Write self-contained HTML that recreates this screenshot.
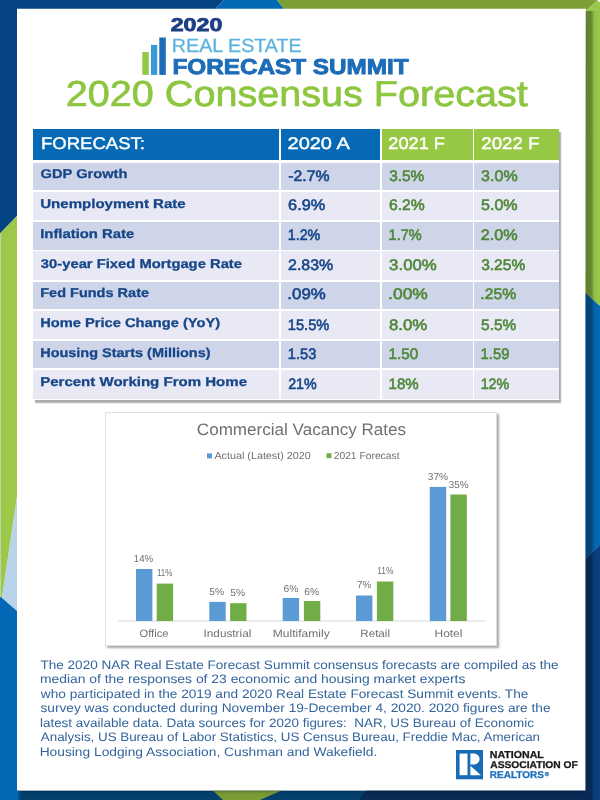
<!DOCTYPE html>
<html><head><meta charset="utf-8">
<style>
*{margin:0;padding:0;box-sizing:border-box}
html,body{width:600px;height:800px;overflow:hidden;background:#fff}
body{position:relative;font-family:"Liberation Sans",sans-serif}
.a{position:absolute}
.tbl{position:absolute;left:33px;top:129.2px;width:526px;height:271px;box-shadow:2.2px 2.8px 1.2px rgba(0,0,0,.33);background:#fff}
.row,.hd{position:absolute;left:33px;width:526px;height:28.3px}
.c{position:absolute;top:0;height:100%;display:block}
.c1{left:0;width:246.25px}
.c2{left:247.9px;width:99.6px}
.c3{left:348.9px;width:90.85px}
.c4{left:441.2px;width:84.8px}
.dk .c{background:#cfd5e9}
.lt .c{background:#e8e9f4}
.hd{top:129.2px;height:30.4px}
.hd .c1,.hd .c2{background:#0569b5}
.hd .c3,.hd .c4{background:#97c844}
svg text{font-family:"Liberation Sans",sans-serif;text-rendering:geometricPrecision}
</style></head><body>
<div id="w" style="position:absolute;left:0;top:0;width:600px;height:800px;filter:blur(0.35px)">
<svg class="a" style="left:0;top:0" width="600" height="800">
  <defs>
    <linearGradient id="rs" x1="585.5" y1="0" x2="600" y2="0" gradientUnits="userSpaceOnUse">
      <stop offset="0" stop-color="#000" stop-opacity=".36"/>
      <stop offset=".38" stop-color="#000" stop-opacity=".34"/>
      <stop offset=".62" stop-color="#000" stop-opacity=".05"/>
      <stop offset="1" stop-color="#000" stop-opacity="0"/>
    </linearGradient>
    <linearGradient id="bs" x1="0" y1="790.7" x2="0" y2="800" gradientUnits="userSpaceOnUse">
      <stop offset="0" stop-color="#000" stop-opacity=".25"/>
      <stop offset=".25" stop-color="#000" stop-opacity=".05"/>
      <stop offset="1" stop-color="#000" stop-opacity="0"/>
    </linearGradient>
    <linearGradient id="bl" x1="17" y1="0" x2="21" y2="0" gradientUnits="userSpaceOnUse">
      <stop offset="0" stop-color="#0369b6" stop-opacity="1"/>
      <stop offset="1" stop-color="#0369b6" stop-opacity="0"/>
    </linearGradient>
  </defs>
  <polygon points="0,0 224,0 215.5,8.8 0,8.8" fill="#044483"/>
  <polygon points="224,0 277,0 284,8.8 215.5,8.8" fill="#0369b6"/>
  <polygon points="277,0 597.5,0 586,11 586,8.8 284,8.8" fill="#7b9f35"/>
  <polygon points="0,0 17,0 17,216 0,233.5" fill="#044483"/>
  <polygon points="0,233.5 17,216 17,497 2,598 0,598" fill="#9dc84a"/>
  <polygon points="17,497 17,611 2,598" fill="#b9d3ea"/>
  <rect x="0" y="234" width="1" height="363" fill="#b6d7aa"/>
  <polygon points="0,597 2,598 17,611 17,800 0,800" fill="#0369b6"/>
  <rect x="17" y="790.7" width="583" height="10" fill="#04416e"/>
  <polygon points="213,790.7 281,790.7 260,800 223,800" fill="#7b9f35"/>
  <polygon points="366,790.7 600,790.7 600,800 359,800" fill="#0a2b56"/>
  <rect x="17" y="790.7" width="569" height="10" fill="url(#bs)"/>
  <rect x="17" y="790.7" width="4" height="10" fill="url(#bl)"/>
  <polygon points="586,11 597.5,0 600,0 600,306 585.5,293" fill="#99c94a"/>
  <polygon points="597.2,0 600,0 600,2.6" fill="#fff"/>
  <polygon points="585.5,293 600,306 600,544.5 585.5,559" fill="#0369b6"/>
  <polygon points="585.5,559 600,544.5 600,800 585.5,800" fill="#0b3f80"/>
  <rect x="585.5" y="11" width="14.5" height="789" fill="url(#rs)"/>
<!-- logo bars -->
  <rect x="142.3" y="51.9" width="6.5" height="23" fill="#92c944"/>
  <rect x="151" y="44.9" width="6.2" height="30" fill="#379ad8"/>
  <rect x="159.3" y="37.5" width="6.5" height="37.4" fill="#1c6cb8"/>
</svg>

<div class="tbl"></div>
<div class="hd"><i class="c c1"></i><i class="c c2"></i><i class="c c3"></i><i class="c c4"></i></div>
<div class="row dk" style="top:163.10px;height:26.90px"><i class="c c1"></i><i class="c c2"></i><i class="c c3"></i><i class="c c4"></i></div>
<div class="row lt" style="top:191.60px;height:28.40px"><i class="c c1"></i><i class="c c2"></i><i class="c c3"></i><i class="c c4"></i></div>
<div class="row dk" style="top:221.70px;height:28.40px"><i class="c c1"></i><i class="c c2"></i><i class="c c3"></i><i class="c c4"></i></div>
<div class="row lt" style="top:251.30px;height:28.90px"><i class="c c1"></i><i class="c c2"></i><i class="c c3"></i><i class="c c4"></i></div>
<div class="row dk" style="top:281.80px;height:27.30px"><i class="c c1"></i><i class="c c2"></i><i class="c c3"></i><i class="c c4"></i></div>
<div class="row lt" style="top:310.80px;height:28.40px"><i class="c c1"></i><i class="c c2"></i><i class="c c3"></i><i class="c c4"></i></div>
<div class="row dk" style="top:340.90px;height:27.60px"><i class="c c1"></i><i class="c c2"></i><i class="c c3"></i><i class="c c4"></i></div>
<div class="row lt" style="top:370.10px;height:29.40px"><i class="c c1"></i><i class="c c2"></i><i class="c c3"></i><i class="c c4"></i></div>

<div class="a" style="left:105.3px;top:411.8px;width:391.6px;height:234.4px;border:1.5px solid #e0e0e0;background:#fff;box-shadow:2px 2px 2px rgba(0,0,0,.35)"></div>

<svg class="a" style="left:0;top:0" width="600" height="800">
  <rect x="207" y="453.4" width="5" height="5" fill="#5b9bd5"/>
  <rect x="326.5" y="453.2" width="5" height="5" fill="#70ad47"/>
  <line x1="118" y1="621" x2="485" y2="621" stroke="#d9d9d9" stroke-width="1"/>
  <g fill="#5b9bd5">
    <rect x="136" y="569" width="16.4" height="52"/>
    <rect x="209.3" y="601.9" width="16.4" height="19.1"/>
    <rect x="282.7" y="598" width="16.4" height="23"/>
    <rect x="356" y="595.5" width="16.4" height="25.5"/>
    <rect x="429.8" y="486.9" width="16.4" height="134.1"/>
  </g>
  <g fill="#70ad47">
    <rect x="156.7" y="583.6" width="16.4" height="37.4"/>
    <rect x="230.1" y="603.2" width="16.4" height="17.8"/>
    <rect x="303.9" y="601" width="16.4" height="20"/>
    <rect x="376.9" y="581.5" width="16.4" height="39.5"/>
    <rect x="450.4" y="494.5" width="16.4" height="126.5"/>
  </g>
  <!-- NAR logo -->
  <g transform="translate(456,750)">
    <rect width="27" height="29.3" fill="#1a6bb5"/>
    <rect x="3.6" y="3.6" width="7.9" height="21.6" fill="#fff"/>
    <path d="M14.4 3.6H18.2A5.4 5.4 0 0 1 18.2 14.4H14.4Z" fill="#fff"/>
    <path d="M14.4 15.8L24.9 25.2H14.4Z" fill="#fff"/>
  </g>
  <text x="544.8" y="775.6" font-size="5.6" font-weight="bold" fill="#1f72bd" stroke="#1f72bd" stroke-width="0.25">®</text>
<text x="170.70" y="30.70" font-size="18.56" font-weight="bold" fill="#1d3f84" textLength="51.64" lengthAdjust="spacingAndGlyphs" stroke="#1d3f84" stroke-width="0.8">2020</text>
<text x="171.88" y="52.00" font-size="19.06" font-weight="normal" fill="#5bb4dd" textLength="129.79" lengthAdjust="spacingAndGlyphs" stroke="#5bb4dd" stroke-width="0.3">REAL ESTATE</text>
<text x="172.47" y="73.80" font-size="21.51" font-weight="bold" fill="#1c6cb8" textLength="236.22" lengthAdjust="spacingAndGlyphs" stroke="#1c6cb8" stroke-width="0.9">FORECAST SUMMIT</text>
<text x="65.87" y="105.70" font-size="36.01" font-weight="normal" fill="#8dc63f" textLength="461.89" lengthAdjust="spacingAndGlyphs" stroke="#8dc63f" stroke-width="0.7">2020 Consensus Forecast</text>
<text x="41.02" y="149.20" font-size="16.81" font-weight="normal" fill="#ffffff" textLength="103.91" lengthAdjust="spacingAndGlyphs" stroke="#fff" stroke-width="0.4">FORECAST:</text>
<text x="287.52" y="149.20" font-size="16.81" font-weight="normal" fill="#ffffff" textLength="62.22" lengthAdjust="spacingAndGlyphs" stroke="#fff" stroke-width="0.4">2020 A</text>
<text x="388.29" y="149.20" font-size="16.81" font-weight="normal" fill="#ffffff" textLength="56.66" lengthAdjust="spacingAndGlyphs" stroke="#fff" stroke-width="0.4">2021 F</text>
<text x="481.27" y="149.20" font-size="16.81" font-weight="normal" fill="#ffffff" textLength="58.20" lengthAdjust="spacingAndGlyphs" stroke="#fff" stroke-width="0.4">2022 F</text>
<text x="40.57" y="178.00" font-size="12.73" font-weight="bold" fill="#184789" textLength="86.87" lengthAdjust="spacingAndGlyphs" stroke="#184789" stroke-width="0.3">GDP Growth</text>
<text x="288.27" y="180.50" font-size="15.22" font-weight="normal" fill="#184789" textLength="41.37" lengthAdjust="spacingAndGlyphs" stroke="#184789" stroke-width="0.6">-2.7%</text>
<text x="389.16" y="180.50" font-size="15.22" font-weight="normal" fill="#50883a" textLength="35.06" lengthAdjust="spacingAndGlyphs" stroke="#50883a" stroke-width="0.6">3.5%</text>
<text x="481.14" y="180.50" font-size="15.22" font-weight="normal" fill="#50883a" textLength="36.51" lengthAdjust="spacingAndGlyphs" stroke="#50883a" stroke-width="0.6">3.0%</text>
<text x="40.25" y="207.70" font-size="12.73" font-weight="bold" fill="#184789" textLength="145.47" lengthAdjust="spacingAndGlyphs" stroke="#184789" stroke-width="0.3">Unemployment Rate</text>
<text x="288.08" y="210.20" font-size="15.22" font-weight="normal" fill="#184789" textLength="37.17" lengthAdjust="spacingAndGlyphs" stroke="#184789" stroke-width="0.6">6.9%</text>
<text x="388.91" y="210.20" font-size="15.22" font-weight="normal" fill="#50883a" textLength="35.82" lengthAdjust="spacingAndGlyphs" stroke="#50883a" stroke-width="0.6">6.2%</text>
<text x="481.06" y="210.20" font-size="15.22" font-weight="normal" fill="#50883a" textLength="36.59" lengthAdjust="spacingAndGlyphs" stroke="#50883a" stroke-width="0.6">5.0%</text>
<text x="40.18" y="237.70" font-size="12.73" font-weight="bold" fill="#184789" textLength="94.13" lengthAdjust="spacingAndGlyphs" stroke="#184789" stroke-width="0.3">Inflation Rate</text>
<text x="287.83" y="240.20" font-size="15.22" font-weight="normal" fill="#184789" textLength="32.45" lengthAdjust="spacingAndGlyphs" stroke="#184789" stroke-width="0.6">1.2%</text>
<text x="388.61" y="240.20" font-size="15.22" font-weight="normal" fill="#50883a" textLength="33.08" lengthAdjust="spacingAndGlyphs" stroke="#50883a" stroke-width="0.6">1.7%</text>
<text x="480.89" y="240.20" font-size="15.22" font-weight="normal" fill="#50883a" textLength="36.76" lengthAdjust="spacingAndGlyphs" stroke="#50883a" stroke-width="0.6">2.0%</text>
<text x="40.85" y="267.60" font-size="12.73" font-weight="bold" fill="#184789" textLength="201.16" lengthAdjust="spacingAndGlyphs" stroke="#184789" stroke-width="0.3">30-year Fixed Mortgage Rate</text>
<text x="288.10" y="270.10" font-size="15.22" font-weight="normal" fill="#184789" textLength="45.14" lengthAdjust="spacingAndGlyphs" stroke="#184789" stroke-width="0.6">2.83%</text>
<text x="389.11" y="270.10" font-size="15.22" font-weight="normal" fill="#50883a" textLength="47.66" lengthAdjust="spacingAndGlyphs" stroke="#50883a" stroke-width="0.6">3.00%</text>
<text x="481.16" y="270.10" font-size="15.22" font-weight="normal" fill="#50883a" textLength="44.08" lengthAdjust="spacingAndGlyphs" stroke="#50883a" stroke-width="0.6">3.25%</text>
<text x="40.21" y="296.80" font-size="12.73" font-weight="bold" fill="#184789" textLength="108.85" lengthAdjust="spacingAndGlyphs" stroke="#184789" stroke-width="0.3">Fed Funds Rate</text>
<text x="287.38" y="299.30" font-size="15.22" font-weight="normal" fill="#184789" textLength="38.39" lengthAdjust="spacingAndGlyphs" stroke="#184789" stroke-width="0.6">.09%</text>
<text x="388.13" y="299.30" font-size="15.22" font-weight="normal" fill="#50883a" textLength="39.66" lengthAdjust="spacingAndGlyphs" stroke="#50883a" stroke-width="0.6">.00%</text>
<text x="480.28" y="299.30" font-size="15.22" font-weight="normal" fill="#50883a" textLength="35.96" lengthAdjust="spacingAndGlyphs" stroke="#50883a" stroke-width="0.6">.25%</text>
<text x="40.20" y="327.20" font-size="12.73" font-weight="bold" fill="#184789" textLength="179.96" lengthAdjust="spacingAndGlyphs" stroke="#184789" stroke-width="0.3">Home Price Change (YoY)</text>
<text x="287.80" y="329.70" font-size="15.22" font-weight="normal" fill="#184789" textLength="41.50" lengthAdjust="spacingAndGlyphs" stroke="#184789" stroke-width="0.6">15.5%</text>
<text x="389.03" y="329.70" font-size="15.22" font-weight="normal" fill="#50883a" textLength="38.24" lengthAdjust="spacingAndGlyphs" stroke="#50883a" stroke-width="0.6">8.0%</text>
<text x="481.08" y="329.70" font-size="15.22" font-weight="normal" fill="#50883a" textLength="35.14" lengthAdjust="spacingAndGlyphs" stroke="#50883a" stroke-width="0.6">5.5%</text>
<text x="40.21" y="356.50" font-size="12.73" font-weight="bold" fill="#184789" textLength="170.33" lengthAdjust="spacingAndGlyphs" stroke="#184789" stroke-width="0.3">Housing Starts (Millions)</text>
<text x="287.80" y="359.00" font-size="15.22" font-weight="normal" fill="#184789" textLength="28.50" lengthAdjust="spacingAndGlyphs" stroke="#184789" stroke-width="0.6">1.53</text>
<text x="388.56" y="359.00" font-size="15.22" font-weight="normal" fill="#50883a" textLength="29.70" lengthAdjust="spacingAndGlyphs" stroke="#50883a" stroke-width="0.6">1.50</text>
<text x="480.59" y="359.00" font-size="15.22" font-weight="normal" fill="#50883a" textLength="28.79" lengthAdjust="spacingAndGlyphs" stroke="#50883a" stroke-width="0.6">1.59</text>
<text x="40.17" y="386.40" font-size="12.73" font-weight="bold" fill="#184789" textLength="206.85" lengthAdjust="spacingAndGlyphs" stroke="#184789" stroke-width="0.3">Percent Working From Home</text>
<text x="288.19" y="388.90" font-size="15.22" font-weight="normal" fill="#184789" textLength="28.50" lengthAdjust="spacingAndGlyphs" stroke="#184789" stroke-width="0.6">21%</text>
<text x="388.57" y="388.90" font-size="15.22" font-weight="normal" fill="#50883a" textLength="30.14" lengthAdjust="spacingAndGlyphs" stroke="#50883a" stroke-width="0.6">18%</text>
<text x="480.63" y="388.90" font-size="15.22" font-weight="normal" fill="#50883a" textLength="28.56" lengthAdjust="spacingAndGlyphs" stroke="#50883a" stroke-width="0.6">12%</text>
<text x="196.85" y="434.80" font-size="16.67" font-weight="normal" fill="#707070" textLength="209.25" lengthAdjust="spacingAndGlyphs" >Commercial Vacancy Rates</text>
<text x="214.40" y="459.40" font-size="10.14" font-weight="normal" fill="#707070" textLength="96.39" lengthAdjust="spacingAndGlyphs" >Actual (Latest) 2020</text>
<text x="333.68" y="459.30" font-size="10.14" font-weight="normal" fill="#707070" textLength="65.84" lengthAdjust="spacingAndGlyphs" >2021 Forecast</text>
<text x="133.87" y="561.70" font-size="10.14" font-weight="normal" fill="#707070" textLength="19.36" lengthAdjust="spacingAndGlyphs" >14%</text>
<text x="156.90" y="575.80" font-size="10.14" font-weight="normal" fill="#707070" textLength="15.48" lengthAdjust="spacingAndGlyphs" >11%</text>
<text x="209.34" y="595.20" font-size="10.14" font-weight="normal" fill="#707070" textLength="14.81" lengthAdjust="spacingAndGlyphs" >5%</text>
<text x="230.39" y="596.30" font-size="10.14" font-weight="normal" fill="#707070" textLength="14.86" lengthAdjust="spacingAndGlyphs" >5%</text>
<text x="283.49" y="591.50" font-size="10.14" font-weight="normal" fill="#707070" textLength="14.87" lengthAdjust="spacingAndGlyphs" >6%</text>
<text x="304.19" y="594.70" font-size="10.14" font-weight="normal" fill="#707070" textLength="14.87" lengthAdjust="spacingAndGlyphs" >6%</text>
<text x="357.00" y="588.30" font-size="10.14" font-weight="normal" fill="#707070" textLength="14.33" lengthAdjust="spacingAndGlyphs" >7%</text>
<text x="377.16" y="574.30" font-size="10.14" font-weight="normal" fill="#707070" textLength="16.32" lengthAdjust="spacingAndGlyphs" >11%</text>
<text x="427.84" y="480.00" font-size="10.14" font-weight="normal" fill="#707070" textLength="20.30" lengthAdjust="spacingAndGlyphs" >37%</text>
<text x="448.85" y="488.00" font-size="10.14" font-weight="normal" fill="#707070" textLength="19.78" lengthAdjust="spacingAndGlyphs" >35%</text>
<text x="139.50" y="637.00" font-size="10.72" font-weight="normal" fill="#707070" textLength="28.96" lengthAdjust="spacingAndGlyphs" >Office</text>
<text x="203.54" y="637.00" font-size="10.72" font-weight="normal" fill="#707070" textLength="47.79" lengthAdjust="spacingAndGlyphs" >Industrial</text>
<text x="272.79" y="637.00" font-size="10.72" font-weight="normal" fill="#707070" textLength="56.96" lengthAdjust="spacingAndGlyphs" >Multifamily</text>
<text x="360.32" y="637.00" font-size="10.72" font-weight="normal" fill="#707070" textLength="29.65" lengthAdjust="spacingAndGlyphs" >Retail</text>
<text x="434.54" y="637.00" font-size="10.72" font-weight="normal" fill="#707070" textLength="27.90" lengthAdjust="spacingAndGlyphs" >Hotel</text>
<text x="40.53" y="668.60" font-size="12.32" font-weight="normal" fill="#33649c" textLength="518.13" lengthAdjust="spacingAndGlyphs" >The 2020 NAR Real Estate Forecast Summit consensus forecasts are compiled as the</text>
<text x="39.90" y="683.15" font-size="12.32" font-weight="normal" fill="#33649c" textLength="425.49" lengthAdjust="spacingAndGlyphs" >median of the responses of 23 economic and housing market experts</text>
<text x="40.87" y="697.70" font-size="12.32" font-weight="normal" fill="#33649c" textLength="487.49" lengthAdjust="spacingAndGlyphs" >who participated in the 2019 and 2020 Real Estate Forecast Summit events. The</text>
<text x="40.46" y="712.25" font-size="12.32" font-weight="normal" fill="#33649c" textLength="510.11" lengthAdjust="spacingAndGlyphs" >survey was conducted during November 19-December 4, 2020. 2020 figures are the</text>
<text x="39.92" y="726.80" font-size="12.32" font-weight="normal" fill="#33649c" textLength="494.01" lengthAdjust="spacingAndGlyphs" xml:space="preserve" >latest available data. Data sources for 2020 figures:  NAR, US Bureau of Economic</text>
<text x="40.80" y="741.35" font-size="12.32" font-weight="normal" fill="#33649c" textLength="499.22" lengthAdjust="spacingAndGlyphs" >Analysis, US Bureau of Labor Statistics, US Census Bureau, Freddie Mac, American</text>
<text x="39.70" y="755.90" font-size="12.32" font-weight="normal" fill="#33649c" textLength="337.60" lengthAdjust="spacingAndGlyphs" >Housing Lodging Association, Cushman and Wakefield.</text>
<text x="489.76" y="758.00" font-size="10.14" font-weight="bold" fill="#1a1a1a" textLength="54.06" lengthAdjust="spacingAndGlyphs" stroke="#1a1a1a" stroke-width="0.3">NATIONAL</text>
<text x="490.25" y="768.00" font-size="9.86" font-weight="bold" fill="#1a1a1a" textLength="87.47" lengthAdjust="spacingAndGlyphs" stroke="#1a1a1a" stroke-width="0.3">ASSOCIATION OF</text>
<text x="489.80" y="778.30" font-size="9.86" font-weight="bold" fill="#1f72bd" textLength="54.12" lengthAdjust="spacingAndGlyphs" stroke="#1f72bd" stroke-width="0.3">REALTORS</text>
</svg>
</div>
</body></html>
